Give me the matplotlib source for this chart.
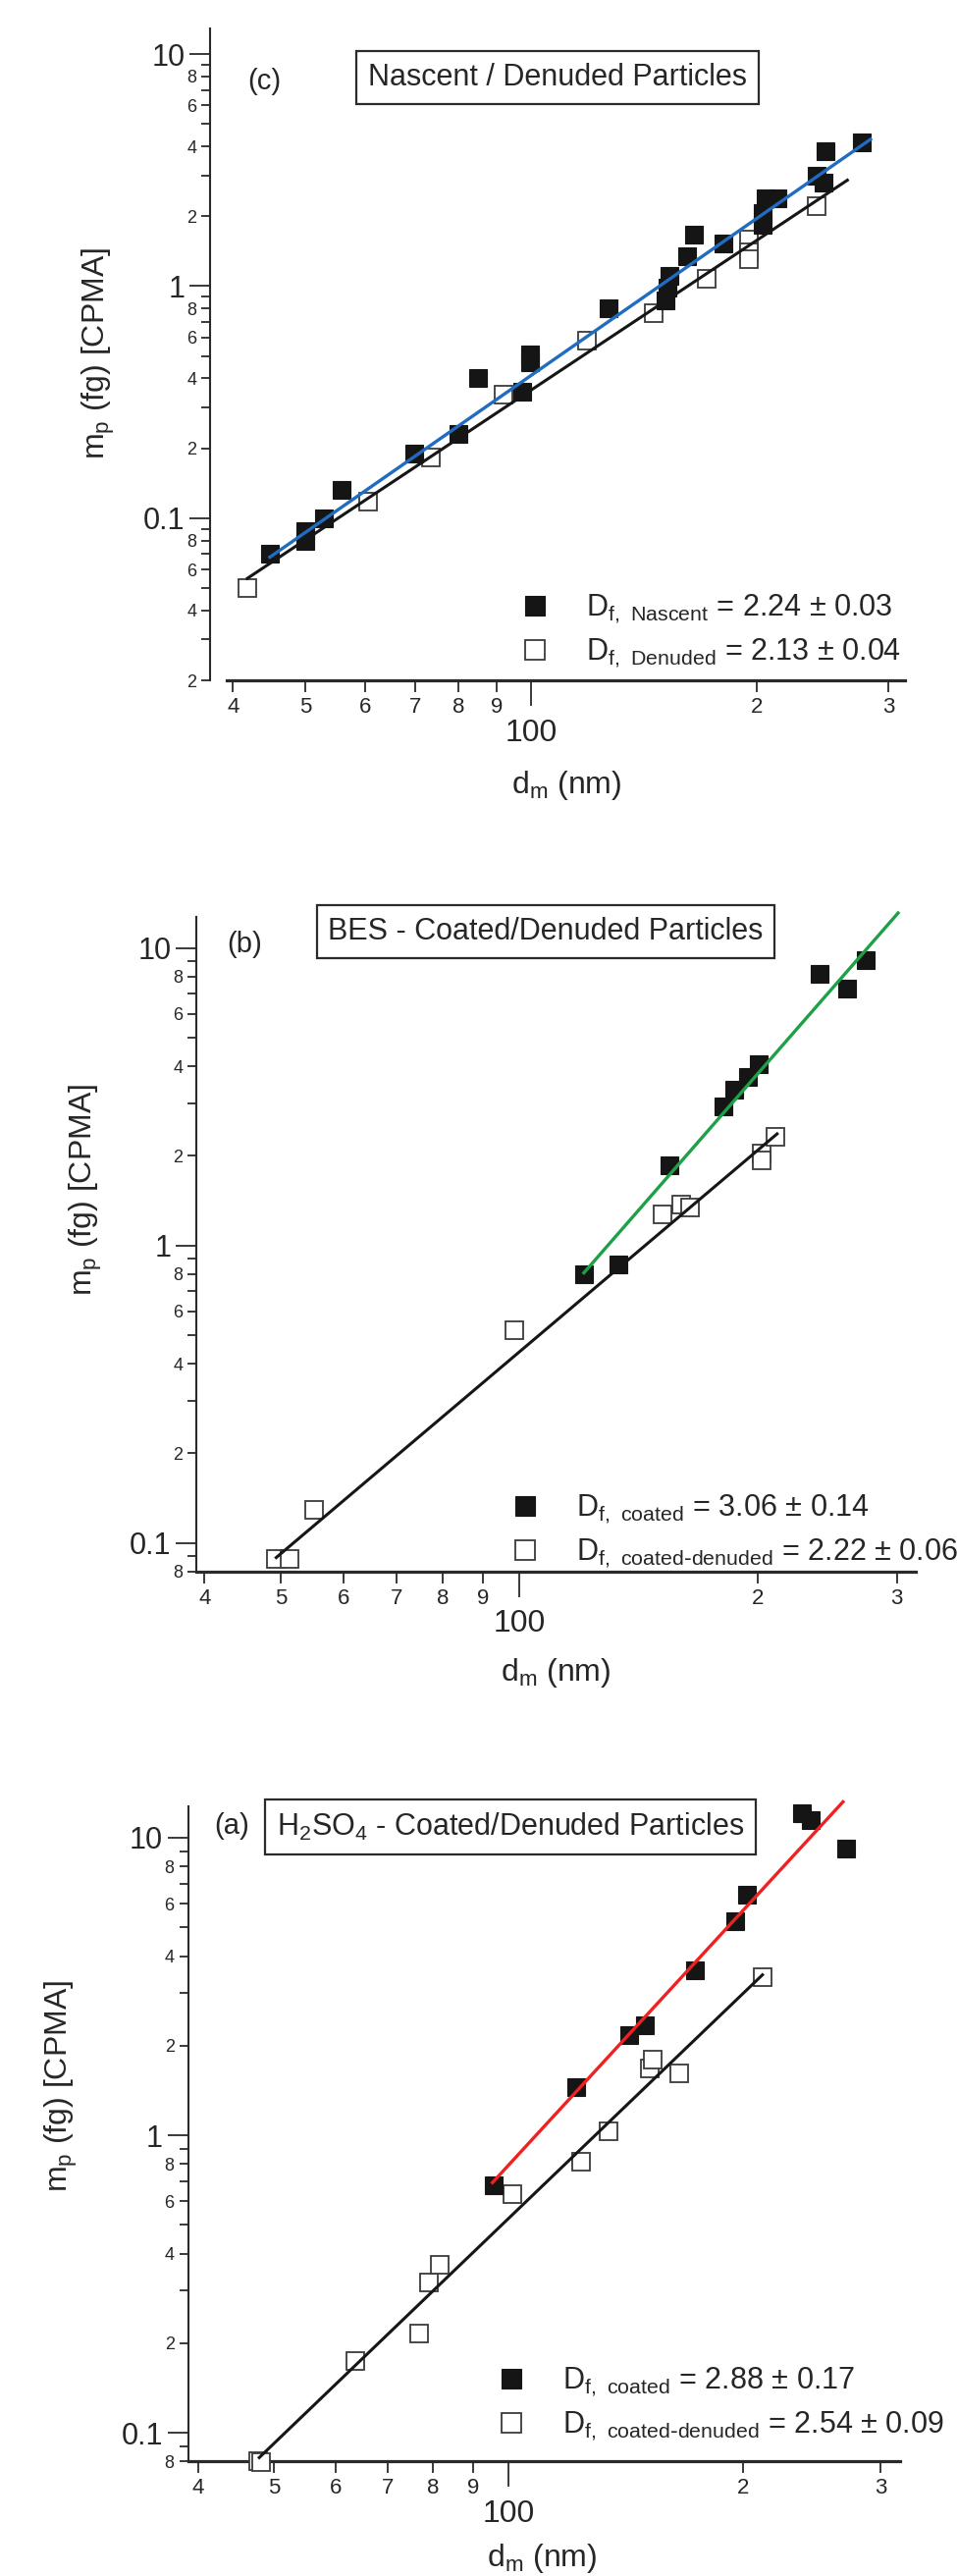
import matplotlib
matplotlib.use('Agg')
import matplotlib.pyplot as plt
from matplotlib.ticker import FixedLocator, FixedFormatter

plt.rcParams['font.family'] = ['Liberation Sans', 'DejaVu Sans']
plt.rcParams['mathtext.default'] = 'regular'

# ---------------- data ----------------
# Panel (c): Nascent / Denuded
c_nascent_d = [44.8, 50.0, 50.0, 52.9, 55.9, 69.8, 79.9, 84.9, 97.2, 99.7, 99.7, 126.9,
               151.0, 152.0, 153.0, 161.6, 164.9, 180.6, 203.7, 203.7, 205.6, 213.0,
               241.0, 246.0, 247.2, 276.7]
c_nascent_m = [0.070, 0.088, 0.080, 0.100, 0.132, 0.189, 0.230, 0.400, 0.351, 0.510, 0.470, 0.804,
               0.87, 0.98, 1.11, 1.35, 1.67, 1.52, 1.84, 2.06, 2.39, 2.39,
               2.98, 2.78, 3.83, 4.16]
c_denuded_d = [41.8, 60.6, 73.4, 92.0, 118.9, 146.0, 171.7, 195.6, 195.6, 195.6, 240.5]
c_denuded_m = [0.0499, 0.118, 0.183, 0.340, 0.581, 0.766, 1.08, 1.59, 1.40, 1.31, 2.20]
c_fit_nascent_d = [44.8, 284.0]
c_fit_nascent_m = [0.0679, 4.29]
c_fit_denuded_d = [41.8, 264.5]
c_fit_denuded_m = [0.055, 2.86]

# Panel (b): BES coated / denuded
b_coated_d = [120.7, 133.4, 154.7, 181.0, 187.2, 194.4, 201.0, 239.7, 259.6, 273.9]
b_coated_m = [0.798, 0.861, 1.86, 2.94, 3.34, 3.69, 4.07, 8.20, 7.29, 9.08]
b_denuded_d = [49.3, 51.3, 55.1, 98.7, 151.7, 160.0, 164.6, 202.6, 202.6, 210.7]
b_denuded_m = [0.0881, 0.0881, 0.129, 0.518, 1.27, 1.37, 1.34, 2.04, 1.93, 2.31]
b_fit_coated_d = [120.7, 301.2]
b_fit_coated_m = [0.808, 13.1]
b_fit_denuded_d = [49.3, 211.8]
b_fit_denuded_m = [0.0892, 2.37]

# Panel (a): H2SO4 coated / denuded
a_coated_d = [95.8, 122.3, 142.7, 149.7, 173.7, 195.6, 202.6, 237.8, 244.3, 270.9]
a_coated_m = [0.679, 1.45, 2.17, 2.34, 3.58, 5.23, 6.44, 12.1, 11.5, 9.17]
a_denuded_d = [47.7, 48.1, 63.6, 76.7, 79.0, 81.7, 101.1, 123.8, 134.4, 151.7, 153.2, 165.6, 211.8]
a_denuded_m = [0.0804, 0.0798, 0.174, 0.216, 0.320, 0.367, 0.634, 0.816, 1.03, 1.68, 1.79, 1.62, 3.40]
a_fit_coated_d = [95.4, 268.7]
a_fit_coated_m = [0.693, 13.2]
a_fit_denuded_d = [47.9, 211.8]
a_fit_denuded_m = [0.0825, 3.46]

# ticks
x_major_ticks = [100]
x_major_labels = ['100']
x_minor_ticks = [40, 50, 60, 70, 80, 90, 200, 300]
x_minor_labels = ['4', '5', '6', '7', '8', '9', '2', '3']
y_major_ticks = [0.1, 1, 10]
y_major_labels = ['0.1', '1', '10']
y_mantissa = [2, 3, 4, 5, 6, 7, 8, 9]
y_mantissa_labels = ['2', '', '4', '', '6', '', '8', '']

legend_c = [r'D$_{f,\ Nascent}$ = 2.24 ± 0.03', r'D$_{f,\ Denuded}$ = 2.13 ± 0.04']
legend_b = [r'D$_{f,\ coated}$ = 3.06 ± 0.14', r'D$_{f,\ coated\text{-}denuded}$ = 2.22 ± 0.06']
legend_a = [r'D$_{f,\ coated}$ = 2.88 ± 0.17', r'D$_{f,\ coated\text{-}denuded}$ = 2.54 ± 0.09']

# ---------------- figure ----------------
W, H = 975, 2624
fig = plt.figure(figsize=(W / 100, H / 100), dpi=100)
fig.patch.set_facecolor('white')
TXT = '#262626'
AX = '#2a2a2a'
PT = 72 / 100.0  # points per pixel


def fx(px):
    return px / W


def fy(py):
    return 1 - py / H


def minor_y(ylo):
    ticks, labels = [], []
    for dec in (0.01, 0.1, 1):
        for m, lab in zip(y_mantissa, y_mantissa_labels):
            v = round(m * dec, 6)
            if v >= ylo - 1e-9:
                ticks.append(v)
                labels.append(lab)
    return ticks, labels


def make_axes(left, right, top, bottom, xlim, ylim, xbounds):
    ax = fig.add_axes([fx(left), fy(bottom), (right - left) / W, (bottom - top) / H])
    ax.set_xscale('log')
    ax.set_yscale('log')
    ax.set_xlim(*xlim)
    ax.set_ylim(*ylim)
    ax.patch.set_visible(False)
    for s in ('top', 'right'):
        ax.spines[s].set_visible(False)
    ax.spines['bottom'].set_bounds(*xbounds)
    ax.spines['bottom'].set_linewidth(2.3)
    ax.spines['left'].set_linewidth(1.5)
    ax.spines['bottom'].set_color(AX)
    ax.spines['left'].set_color(AX)
    ax.xaxis.set_major_locator(FixedLocator(x_major_ticks))
    ax.xaxis.set_major_formatter(FixedFormatter(x_major_labels))
    ax.xaxis.set_minor_locator(FixedLocator(x_minor_ticks))
    ax.xaxis.set_minor_formatter(FixedFormatter(x_minor_labels))
    yt, yl = minor_y(ylim[0])
    ax.yaxis.set_major_locator(FixedLocator(y_major_ticks))
    ax.yaxis.set_major_formatter(FixedFormatter(y_major_labels))
    ax.yaxis.set_minor_locator(FixedLocator(yt))
    ax.yaxis.set_minor_formatter(FixedFormatter(yl))
    ax.tick_params(axis='x', which='major', direction='out', length=26 * PT, width=1.3,
                   pad=9, labelsize=23, colors=AX, labelcolor=TXT)
    ax.tick_params(axis='x', which='minor', direction='out', length=12 * PT, width=1.3,
                   pad=3.5, labelsize=16, colors=AX, labelcolor=TXT)
    ax.tick_params(axis='y', which='major', direction='out', length=21 * PT, width=1.3,
                   pad=3.2, labelsize=22, colors=AX, labelcolor=TXT)
    ax.tick_params(axis='y', which='minor', direction='out', length=9 * PT, width=1.3,
                   pad=3.5, labelsize=13, colors=AX, labelcolor=TXT)
    return ax


def draw_panel(ax, fd, fm, od, om, fit_f_d, fit_f_m, fit_o_d, fit_o_m, fit_color,
               labels, leg_left, leg_top):
    ho, = ax.plot(od, om, ls='none', marker='s', ms=12.5, mfc='white', mec='#3a3a3a',
                  mew=1.3, clip_on=False, zorder=3)
    hf, = ax.plot(fd, fm, ls='none', marker='s', ms=12.5, mfc='#151515', mec='#151515',
                  mew=0.8, clip_on=False, zorder=4)
    ax.plot(fit_o_d, fit_o_m, color='#161616', lw=2.2, clip_on=False, zorder=5)
    ax.plot(fit_f_d, fit_f_m, color=fit_color, lw=2.4, clip_on=False, zorder=6)
    leg = ax.legend([hf, ho], labels, loc='upper left',
                    bbox_to_anchor=(fx(leg_left), fy(leg_top)), bbox_transform=fig.transFigure,
                    frameon=False, borderpad=0, borderaxespad=0, handlelength=1.0,
                    handletextpad=1.2, labelspacing=0.38, fontsize=22, markerscale=1.1)
    for t in leg.get_texts():
        t.set_color(TXT)
    return leg


def title_box(cx, cy, s):
    fig.text(fx(cx), fy(cy), s, ha='center', va='center', fontsize=22, color=TXT,
             bbox=dict(boxstyle='square,pad=0.38', fc='white', ec=AX, lw=1.6))


# ---- Panel (c) ----
ax_c = make_axes(214, 950, 28.9, 693, (37.27, 343.6), (0.02, 12.9), (39.2, 316))
draw_panel(ax_c, c_nascent_d, c_nascent_m, c_denuded_d, c_denuded_m,
           c_fit_nascent_d, c_fit_nascent_m, c_fit_denuded_d, c_fit_denuded_m,
           '#1f6cc0', legend_c, 530, 604)
fig.text(fx(100), fy(360), r'm$_p$ (fg) [CPMA]', rotation=90, ha='center', va='center',
         fontsize=23, color=TXT)
fig.text(fx(577), fy(800), r'd$_m$ (nm)', ha='center', va='center', fontsize=23, color=TXT)
fig.text(fx(269), fy(83), '(c)', ha='center', va='center', fontsize=21, color=TXT)
title_box(568, 79, 'Nascent / Denuded Particles')

# ---- Panel (b) ----
ax_b = make_axes(200, 950, 934.1, 1600.9, (39.07, 332.9), (0.08, 12.7), (39.07, 317))
draw_panel(ax_b, b_coated_d, b_coated_m, b_denuded_d, b_denuded_m,
           b_fit_coated_d, b_fit_coated_m, b_fit_denuded_d, b_fit_denuded_m,
           '#1ea046', legend_b, 520, 1521)
fig.text(fx(87), fy(1212), r'm$_p$ (fg) [CPMA]', rotation=90, ha='center', va='center',
         fontsize=23, color=TXT)
fig.text(fx(566), fy(1704), r'd$_m$ (nm)', ha='center', va='center', fontsize=23, color=TXT)
fig.text(fx(249), fy(962), '(b)', ha='center', va='center', fontsize=21, color=TXT)
title_box(556, 949, 'BES - Coated/Denuded Particles')

# ---- Panel (a) ----
ax_a = make_axes(191.5, 950, 1839.5, 2507.4, (38.8, 350.0), (0.08, 12.8), (38.8, 318))
draw_panel(ax_a, a_coated_d, a_coated_m, a_denuded_d, a_denuded_m,
           a_fit_coated_d, a_fit_coated_m, a_fit_denuded_d, a_fit_denuded_m,
           '#ee2222', legend_a, 506, 2410)
fig.text(fx(62), fy(2125), r'm$_p$ (fg) [CPMA]', rotation=90, ha='center', va='center',
         fontsize=23, color=TXT)
fig.text(fx(552), fy(2606), r'd$_m$ (nm)', ha='center', va='center', fontsize=23, color=TXT)
fig.text(fx(236), fy(1860), '(a)', ha='center', va='center', fontsize=21, color=TXT)
title_box(520, 1861, r'H$_2$SO$_4$ - Coated/Denuded Particles')

fig.savefig('out.png', dpi=100, facecolor='white')
